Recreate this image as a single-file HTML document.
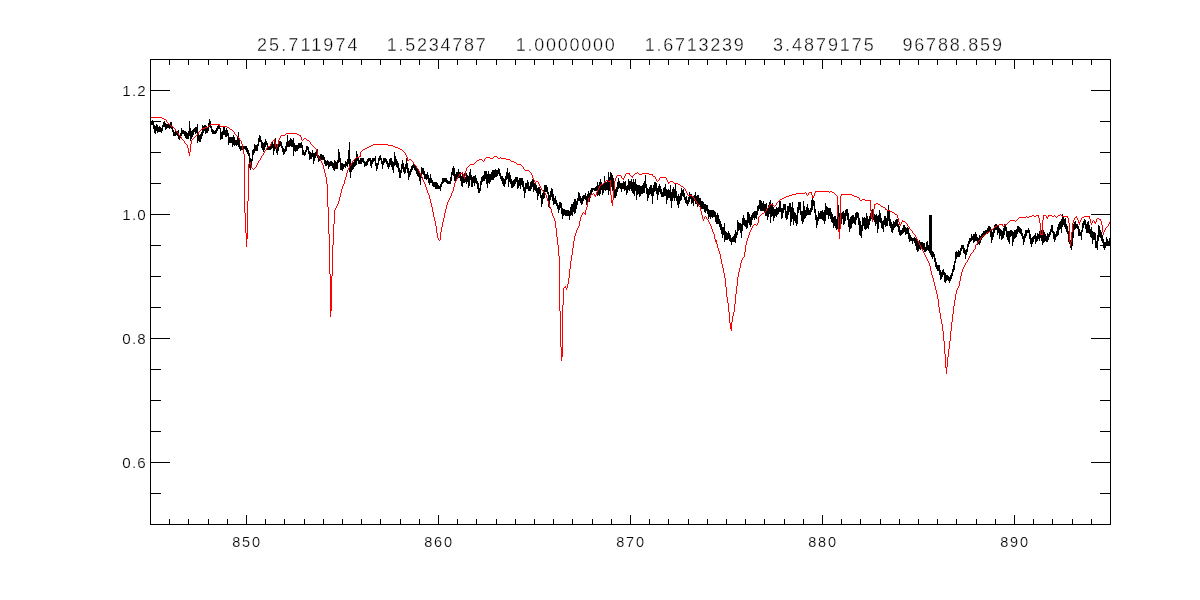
<!DOCTYPE html>
<html><head><meta charset="utf-8"><title>plot</title>
<style>
html,body{margin:0;padding:0;background:#fff;}
body{width:1200px;height:600px;position:relative;overflow:hidden;font-family:"Liberation Sans",sans-serif;color:#000;}
svg{position:absolute;left:0;top:0;}
.t{position:absolute;white-space:pre;line-height:1;}
.xl{font-size:14.5px;letter-spacing:1.8px;top:535px;width:60px;text-align:center;-webkit-text-stroke:0.2px #fff;}
.yl{font-size:15.2px;letter-spacing:1.2px;width:60px;text-align:right;-webkit-text-stroke:0.2px #fff;}
.ti{font-size:18px;letter-spacing:2.1px;top:36px;-webkit-text-stroke:0.35px #fff;}
</style></head><body>
<svg width="1200" height="600" viewBox="0 0 1200 600" shape-rendering="crispEdges">
<path d="M150.5 118V125M151.5 121V125M152.5 120V125M153.5 122V129M154.5 125V133M155.5 126V134M156.5 124V131M157.5 125V133M158.5 127V132M159.5 126V132M160.5 127V132M161.5 128V133M162.5 125V131M163.5 122V127M164.5 121V127M165.5 123V130M166.5 124V129M167.5 124V128M168.5 124V128M169.5 125V129M170.5 122V125M170.5 126V128M171.5 122V126M171.5 127V129M172.5 127V132M173.5 130V136M174.5 132V136M175.5 131V136M176.5 132V135M177.5 131V132M177.5 133V136M178.5 130V133M178.5 135V139M179.5 136V140M180.5 133V136M180.5 137V138M181.5 128V136M182.5 130V134M183.5 130V134M184.5 131V136M185.5 131V138M186.5 132V139M187.5 133V139M188.5 131V139M189.5 121V136M190.5 128V141M191.5 131V139M192.5 130V137M193.5 129V135M194.5 128V132M195.5 127V134M196.5 127V133M197.5 124V134M197.5 135V143M198.5 134V141M199.5 135V142M200.5 134V142M201.5 132V139M202.5 125V128M202.5 129V136M203.5 126V128M203.5 129V133M204.5 125V128M204.5 129V131M205.5 125V127M205.5 128V134M206.5 126V127M206.5 128V133M207.5 128V133M208.5 123V126M208.5 127V131M209.5 119V125M209.5 126V127M210.5 121V124M210.5 125V128M211.5 126V132M212.5 129V134M213.5 130V134M214.5 131V134M215.5 130V134M216.5 128V133M217.5 126V131M218.5 125V129M219.5 126V129M220.5 128V140M221.5 132V139M222.5 131V139M223.5 127V135M224.5 127V135M225.5 130V137M226.5 128V137M227.5 130V136M228.5 133V145M229.5 137V143M230.5 137V143M231.5 137V143M232.5 137V147M233.5 135V145M234.5 137V146M235.5 140V145M236.5 140V146M237.5 137V145M238.5 132V137M238.5 138V147M239.5 140V149M240.5 146V151M241.5 146V150M242.5 149V150M243.5 146V149M244.5 146V149M245.5 146V150M246.5 146V152M247.5 148V154M248.5 150V156M249.5 153V163M249.5 164V168M250.5 158V162M250.5 165V170M251.5 159V165M252.5 150V161M253.5 149V155M254.5 144V153M255.5 145V151M256.5 145V151M257.5 144V151M258.5 138V146M259.5 135V142M260.5 136V142M261.5 140V148M262.5 142V150M263.5 143V152M264.5 142V150M265.5 139V147M266.5 141V145M267.5 143V147M267.5 148V150M268.5 147V150M269.5 147V150M270.5 146V150M271.5 144V149M272.5 142V148M273.5 144V155M274.5 142V151M275.5 138V142M275.5 147V149M276.5 144V147M276.5 149V153M277.5 147V155M278.5 144V151M279.5 141V147M280.5 141V146M281.5 142V148M282.5 146V152M283.5 148V155M284.5 149V154M285.5 146V152M286.5 142V151M287.5 135V147M288.5 141V147M289.5 140V147M290.5 138V146M291.5 139V147M292.5 140V147M293.5 138V156M294.5 143V151M295.5 145V152M296.5 145V151M297.5 145V151M298.5 143V149M299.5 143V148M300.5 143V148M301.5 142V148M302.5 145V155M303.5 150V155M304.5 152V156M305.5 150V155M306.5 146V152M307.5 146V150M308.5 147V154M309.5 151V160M310.5 152V159M311.5 153V159M312.5 150V157M313.5 153V164M314.5 153V161M315.5 152V158M316.5 151V156M317.5 149V151M317.5 156V158M318.5 155V156M318.5 158V162M319.5 156V158M319.5 159V161M320.5 154V159M321.5 154V160M322.5 155V160M323.5 155V160M324.5 157V164M325.5 160V166M326.5 161V166M327.5 160V165M328.5 161V169M329.5 162V167M330.5 161V166M331.5 161V166M332.5 162V168M333.5 163V170M334.5 160V171M335.5 161V169M336.5 162V169M337.5 160V169M338.5 149V163M339.5 152V162M340.5 158V170M341.5 163V170M342.5 163V171M343.5 164V169M344.5 164V167M345.5 161V168M346.5 162V166M347.5 159V167M348.5 150V164M349.5 142V166M349.5 168V172M350.5 159V165M350.5 166V178M351.5 165V172M352.5 163V170M353.5 162V169M354.5 160V167M355.5 159V166M356.5 151V157M356.5 158V165M357.5 154V157M357.5 158V161M358.5 158V164M359.5 160V164M360.5 158V164M361.5 158V164M362.5 158V162M363.5 158V163M364.5 161V167M365.5 162V166M366.5 161V166M367.5 159V165M368.5 158V162M369.5 158V161M370.5 158V166M371.5 160V168M372.5 158V164M373.5 158V162M374.5 158V161M375.5 156V166M376.5 163V171M377.5 163V169M378.5 158V165M379.5 156V161M380.5 155V160M381.5 158V164M382.5 161V169M383.5 158V165M384.5 158V163M385.5 158V162M386.5 159V164M387.5 161V167M388.5 163V169M389.5 159V167M390.5 158V165M391.5 158V167M392.5 161V170M393.5 162V173M394.5 152V166M395.5 156V165M396.5 159V167M397.5 161V168M398.5 163V172M399.5 168V178M400.5 170V178M401.5 164V173M402.5 160V169M403.5 163V172M404.5 167V174M405.5 164V173M406.5 158V169M407.5 163V173M408.5 168V180M409.5 171V177M410.5 169V175M411.5 166V172M412.5 165V170M413.5 164V168M414.5 165V170M415.5 166V171M416.5 168V174M417.5 169V176M418.5 171V177M419.5 173V181M420.5 175V185M421.5 167V175M421.5 177V178M422.5 168V174M423.5 168V175M424.5 171V179M425.5 174V179M426.5 174V180M427.5 172V179M428.5 175V183M429.5 178V185M430.5 174V183M431.5 178V183M432.5 180V186M433.5 182V187M434.5 182V187M435.5 182V189M436.5 182V189M437.5 183V189M438.5 185V189M439.5 186V189M440.5 184V191M441.5 182V187M442.5 178V184M443.5 178V183M444.5 178V182M445.5 178V182M446.5 178V183M447.5 180V184M448.5 181V184M449.5 181V184M450.5 177V184M451.5 172V181M452.5 168V175M453.5 166V176M454.5 168V181M455.5 174V181M456.5 172V179M457.5 172V177M458.5 169V176M458.5 177V178M459.5 172V174M459.5 176V178M460.5 172V173M460.5 174V181M461.5 176V186M462.5 174V187M463.5 177V183M464.5 173V176M464.5 179V183M465.5 177V182M466.5 173V184M467.5 175V182M468.5 176V188M469.5 172V186M470.5 169V180M471.5 175V187M472.5 177V187M473.5 176V183M474.5 176V186M475.5 175V183M476.5 178V184M477.5 181V189M478.5 183V193M479.5 188V193M480.5 181V191M481.5 177V185M482.5 176V182M483.5 175V181M484.5 171V181M485.5 171V179M486.5 171V184M487.5 174V188M488.5 171V183M489.5 174V184M490.5 174V182M491.5 172V180M492.5 170V180M493.5 170V180M494.5 170V178M495.5 169V177M496.5 170V177M497.5 170V176M498.5 168V174M499.5 169V176M500.5 173V179M501.5 176V181M502.5 176V184M503.5 178V186M504.5 179V187M505.5 176V184M506.5 172V180M507.5 168V179M508.5 173V187M509.5 172V182M510.5 175V184M511.5 179V188M512.5 181V188M513.5 180V187M514.5 179V186M515.5 177V184M516.5 177V182M517.5 177V189M518.5 180V188M519.5 178V186M520.5 178V189M521.5 178V185M522.5 178V187M523.5 181V191M524.5 187V198M525.5 183V193M526.5 183V189M527.5 180V189M528.5 182V191M529.5 186V191M530.5 182V191M531.5 181V189M532.5 179V187M533.5 180V192M534.5 183V190M535.5 184V191M536.5 185V193M537.5 188V200M538.5 187V196M539.5 187V194M540.5 189V198M541.5 195V207M542.5 193V204M543.5 190V191M543.5 192V199M544.5 185V192M544.5 193V198M545.5 185V192M546.5 185V192M547.5 187V194M548.5 192V201M548.5 204V207M549.5 195V204M549.5 207V208M550.5 191V200M551.5 188V197M552.5 189V201M553.5 194V205M554.5 198V204M555.5 196V204M556.5 200V206M557.5 203V209M558.5 205V213M559.5 202V210M560.5 202V208M561.5 203V214M562.5 208V219M563.5 209V216M564.5 209V215M565.5 210V216M566.5 210V216M567.5 210V216M568.5 210V216M569.5 211V220M570.5 207V216M571.5 204V215M572.5 204V216M573.5 202V212M574.5 199V214M575.5 199V213M576.5 201V209M577.5 198V205M578.5 192V201M579.5 193V201M580.5 196V203M581.5 198V205M582.5 196V204M583.5 195V201M584.5 195V199M585.5 193V200M586.5 196V205M587.5 194V202M588.5 191V198M589.5 193V197M589.5 198V202M590.5 190V195M590.5 197V198M591.5 188V194M592.5 188V192M593.5 188V190M594.5 188V191M595.5 187V191M596.5 186V191M597.5 182V190M597.5 192V196M598.5 185V188M598.5 190V195M599.5 182V186M599.5 188V196M600.5 179V185M600.5 186V194M601.5 182V184M601.5 185V190M602.5 185V195M603.5 184V193M604.5 176V182M604.5 183V190M605.5 182V191M606.5 182V190M607.5 181V190M608.5 172V181M608.5 182V195M609.5 177V181M609.5 182V191M610.5 172V180M611.5 173V187M612.5 175V191M613.5 178V190M614.5 190V198M615.5 189V198M616.5 187V196M617.5 182V192M618.5 178V189M619.5 181V188M620.5 183V189M621.5 183V192M622.5 183V189M623.5 181V189M624.5 182V191M625.5 181V190M626.5 186V195M627.5 185V193M628.5 179V190M629.5 181V191M630.5 181V189M631.5 179V191M632.5 182V193M633.5 179V194M634.5 182V196M635.5 179V191M636.5 184V200M637.5 185V195M638.5 185V194M639.5 185V197M640.5 186V196M641.5 186V194M642.5 185V194M643.5 183V193M644.5 181V193M645.5 175V188M646.5 184V194M647.5 188V201M648.5 189V198M649.5 187V195M650.5 185V194M651.5 185V196M652.5 188V204M653.5 185V196M654.5 182V192M655.5 182V191M656.5 183V194M657.5 188V200M658.5 186V195M659.5 184V192M660.5 186V194M661.5 189V197M662.5 192V197M663.5 188V197M664.5 187V196M665.5 184V196M666.5 189V204M667.5 190V200M668.5 189V198M669.5 190V198M670.5 185V201M671.5 192V208M672.5 189V201M673.5 187V198M674.5 189V201M675.5 184V198M676.5 191V201M677.5 196V205M678.5 194V208M679.5 196V204M680.5 193V201M681.5 188V200M682.5 190V196M683.5 189V197M684.5 193V200M685.5 197V203M686.5 196V204M687.5 200V206M688.5 197V204M689.5 192V195M689.5 196V202M690.5 194V195M690.5 196V199M691.5 194V195M691.5 196V204M692.5 197V203M693.5 196V197M693.5 198V206M694.5 195V198M694.5 200V201M695.5 192V200M695.5 201V204M696.5 196V201M696.5 203V204M697.5 195V203M697.5 204V207M698.5 195V204M699.5 198V205M700.5 198V207M701.5 201V209M702.5 201V209M703.5 202V209M704.5 204V212M705.5 204V213M706.5 205V211M707.5 205V214M708.5 209V219M709.5 210V217M710.5 210V219M711.5 210V217M712.5 210V218M713.5 210V217M714.5 211V217M715.5 212V222M716.5 215V224M717.5 213V224M718.5 215V224M719.5 219V227M720.5 221V230M721.5 224V234M722.5 227V238M723.5 227V235M724.5 223V242M725.5 231V240M726.5 232V240M727.5 233V240M728.5 231V239M729.5 233V241M730.5 235V242M731.5 238V245M732.5 237V242M733.5 236V242M734.5 234V242M735.5 230V243M736.5 232V238M737.5 220V235M738.5 222V231M739.5 223V230M740.5 223V233M741.5 224V238M742.5 218V231M743.5 215V225M744.5 218V226M745.5 220V227M746.5 220V229M747.5 212V228M748.5 212V223M749.5 214V225M750.5 217V227M751.5 215V225M752.5 213V220M753.5 212V218M754.5 211V220M755.5 211V218M756.5 211V219M757.5 206V215M758.5 205V211M759.5 200V209M760.5 200V211M761.5 201V211M762.5 203V211M763.5 201V211M764.5 204V212M765.5 204V211M765.5 212V216M766.5 203V209M766.5 211V216M767.5 209V220M768.5 205V207M768.5 208V217M769.5 202V205M769.5 207V214M770.5 200V204M770.5 205V223M771.5 205V217M772.5 203V204M772.5 205V216M773.5 207V221M774.5 209V218M775.5 209V216M776.5 207V217M777.5 208V215M778.5 207V214M779.5 201V212M780.5 201V212M781.5 208V219M782.5 208V218M783.5 204V213M784.5 204V210M785.5 204V218M786.5 211V220M787.5 206V219M788.5 206V215M789.5 203V212M790.5 203V226M791.5 207V222M792.5 202V219M793.5 208V225M794.5 212V221M795.5 213V223M796.5 215V226M797.5 207V224M798.5 202V213M799.5 202V210M800.5 202V215M801.5 211V221M802.5 211V224M803.5 201V222M804.5 206V219M805.5 210V218M806.5 207V216M807.5 204V215M808.5 208V215M809.5 210V215M810.5 208V215M811.5 200V212M812.5 198V210M813.5 200V206M814.5 201V213M815.5 209V220M816.5 215V228M817.5 217V225M818.5 211V221M819.5 213V219M820.5 211V219M821.5 211V219M822.5 210V220M823.5 212V221M824.5 210V224M825.5 203V221M826.5 206V215M827.5 207V215M828.5 208V219M829.5 208V216M830.5 208V219M831.5 212V222M832.5 214V223M833.5 217V228M834.5 216V226M835.5 216V228M836.5 219V230M837.5 217V229M838.5 205V217M839.5 213V229M841.5 213V224M842.5 212V219M843.5 211V225M844.5 213V224M845.5 210V221M846.5 209V216M847.5 209V220M848.5 213V227M849.5 219V232M850.5 217V229M851.5 216V228M852.5 215V224M853.5 215V223M854.5 217V224M855.5 213V225M856.5 212V220M857.5 212V218M858.5 213V225M859.5 218V235M860.5 221V236M861.5 225V238M862.5 217V231M863.5 218V226M864.5 217V229M865.5 218V230M866.5 213V229M867.5 216V228M868.5 219V229M869.5 216V225M870.5 213V221M871.5 210V211M871.5 218V219M872.5 209V217M873.5 217V220M874.5 214V222M875.5 215V226M876.5 214V224M877.5 216V233M878.5 215V229M879.5 210V222M880.5 213V223M881.5 218V228M882.5 221V229M883.5 220V232M884.5 216V225M885.5 216V227M886.5 218V226M887.5 211V226M888.5 205V210M888.5 211V221M889.5 211V226M890.5 219V228M891.5 222V232M892.5 224V233M893.5 221V230M894.5 222V228M895.5 220V227M896.5 219V226M897.5 219V227M898.5 224V232M899.5 226V235M900.5 230V236M901.5 230V235M902.5 228V234M903.5 225V233M904.5 225V232M905.5 227V235M906.5 228V234M907.5 227V234M908.5 228V239M909.5 233V242M910.5 235V241M911.5 237V241M912.5 238V244M913.5 238V241M914.5 237V243M915.5 238V246M916.5 239V250M917.5 241V252M918.5 243V251M919.5 240V243M919.5 245V249M920.5 242V245M920.5 247V250M921.5 242V247M922.5 242V249M923.5 243V250M924.5 243V252M925.5 247V252M926.5 242V251M927.5 241V250M928.5 245V251M929.5 215V253M930.5 215V255M931.5 215V257M932.5 251V259M933.5 252V257M934.5 254V262M935.5 258V267M936.5 262V269M937.5 265V271M938.5 265V271M939.5 265V275M940.5 270V280M941.5 272V279M942.5 270V277M943.5 269V275M944.5 272V282M945.5 273V283M946.5 275V281M947.5 275V280M948.5 276V281M949.5 277V283M950.5 275V281M951.5 273V279M952.5 269V276M953.5 265V272M954.5 261V270M955.5 252V263M956.5 251V259M957.5 252V257M958.5 250V257M959.5 251V257M960.5 248V255M961.5 245V251M962.5 245V249M963.5 245V253M964.5 248V254M965.5 250V259M966.5 249V255M967.5 244V252M968.5 241V247M969.5 238V244M970.5 238V242M971.5 234V241M972.5 236V240M973.5 234V243M974.5 234V242M975.5 232V241M976.5 234V241M977.5 237V242M977.5 244V245M978.5 238V241M978.5 242V244M979.5 235V240M979.5 241V245M980.5 236V238M980.5 240V243M981.5 234V237M981.5 238V240M982.5 233V236M982.5 237V238M983.5 231V235M983.5 236V237M984.5 231V235M985.5 230V234M986.5 230V233M987.5 228V232M987.5 233V234M988.5 226V232M989.5 226V231M990.5 227V230M990.5 231V237M991.5 230V243M992.5 232V240M993.5 229V237M994.5 225V227M994.5 228V233M995.5 224V226M995.5 227V230M996.5 224V226M996.5 227V230M997.5 226V235M998.5 226V233M999.5 228V239M1000.5 229V236M1001.5 230V240M1002.5 231V239M1003.5 228V238M1004.5 224V225M1004.5 226V235M1005.5 225V231M1006.5 227V237M1007.5 231V240M1008.5 231V242M1009.5 231V244M1010.5 230V237M1011.5 230V236M1012.5 231V246M1013.5 232V242M1014.5 230V239M1015.5 230V238M1016.5 229V237M1017.5 226V234M1018.5 226V232M1019.5 227V233M1020.5 228V234M1021.5 229V236M1022.5 233V239M1023.5 236V245M1024.5 234V242M1025.5 230V238M1026.5 230V236M1027.5 230V233M1028.5 228V233M1029.5 230V239M1030.5 234V244M1031.5 238V247M1032.5 237V244M1033.5 236V242M1034.5 235V239M1035.5 233V244M1036.5 236V242M1037.5 233V241M1038.5 234V239M1039.5 231V241M1040.5 235V238M1041.5 230V234M1041.5 235V241M1042.5 235V245M1043.5 230V243M1044.5 232V242M1045.5 234V241M1046.5 236V242M1047.5 233V242M1048.5 234V240M1049.5 232V237M1050.5 229V235M1051.5 225V232M1052.5 225V233M1053.5 231V239M1054.5 232V242M1055.5 234V240M1056.5 231V237M1057.5 227V236M1058.5 224V235M1059.5 222V230M1060.5 221V229M1061.5 219V233M1062.5 214V216M1062.5 217V227M1063.5 217V225M1064.5 219V227M1065.5 218V229M1066.5 224V232M1067.5 226V234M1068.5 231V242M1069.5 242V244M1070.5 240V242M1070.5 246V248M1071.5 242V250M1072.5 232V246M1073.5 224V238M1074.5 222V230M1075.5 221V229M1076.5 224V228M1077.5 224V229M1078.5 226V236M1079.5 229V236M1080.5 232V236M1081.5 230V240M1082.5 223V232M1083.5 221V228M1084.5 219V225M1085.5 220V229M1086.5 224V233M1087.5 222V233M1088.5 221V233M1089.5 225V234M1090.5 229V237M1091.5 227V238M1092.5 231V244M1093.5 232V240M1094.5 232V240M1095.5 233V248M1096.5 241V248M1097.5 235V250M1098.5 225V241M1099.5 226V237M1100.5 230V238M1101.5 232V241M1102.5 235V243M1103.5 239V248M1104.5 242V250M1105.5 242V248M1106.5 237V246M1107.5 239V246M1108.5 241V246M1109.5 238V246M1110.5 237V242" fill="none" stroke="#000" stroke-width="1"/>
<path d="M150.5 117V118M151.5 117V118M152.5 117V118M153.5 117V118M154.5 117V118M155.5 117V118M156.5 117V118M157.5 117V118M158.5 117V118M159.5 117V118M160.5 117V118M161.5 117V118M162.5 118V119M163.5 118V119M164.5 119V120M165.5 119V120M166.5 120V122M167.5 122V123M168.5 123V124M169.5 124V125M170.5 125V126M171.5 126V127M172.5 126V127M173.5 127V128M174.5 128V129M175.5 129V131M176.5 131V132M177.5 132V133M178.5 133V135M179.5 135V136M180.5 136V137M181.5 137V139M182.5 139V140M183.5 140V141M184.5 141V143M185.5 143V144M186.5 144V145M187.5 145V148M188.5 148V153M189.5 152V156M190.5 144V152M191.5 140V144M192.5 139V140M193.5 138V139M194.5 137V138M195.5 136V137M196.5 135V136M197.5 134V135M198.5 132V134M199.5 131V132M200.5 130V131M201.5 129V130M202.5 128V129M203.5 128V129M204.5 128V129M205.5 127V128M206.5 127V128M207.5 127V128M208.5 126V127M209.5 125V126M210.5 124V125M211.5 124V125M212.5 124V125M213.5 124V125M214.5 124V125M215.5 124V125M216.5 124V125M217.5 124V125M218.5 124V125M219.5 124V126M220.5 126V127M221.5 126V127M222.5 126V127M223.5 126V127M224.5 126V127M225.5 126V127M226.5 126V127M227.5 127V128M228.5 127V128M229.5 128V129M230.5 129V130M231.5 129V130M232.5 130V131M233.5 131V132M234.5 132V134M235.5 134V135M236.5 135V136M237.5 136V137M238.5 137V138M239.5 138V140M240.5 140V141M241.5 141V144M242.5 144V149M243.5 149V154M244.5 154V213M245.5 213V233M246.5 233V247M247.5 201V239M248.5 164V201M249.5 163V164M250.5 162V165M251.5 165V168M252.5 168V169M253.5 169V170M254.5 168V169M255.5 167V168M256.5 165V167M257.5 163V165M258.5 161V163M259.5 160V161M260.5 158V160M261.5 156V158M262.5 155V156M263.5 153V155M264.5 151V153M265.5 150V151M266.5 148V150M267.5 147V148M268.5 146V147M269.5 146V147M270.5 144V146M271.5 142V144M272.5 141V142M273.5 140V141M274.5 139V142M275.5 142V147M276.5 147V149M277.5 144V147M278.5 140V144M279.5 138V140M280.5 136V138M281.5 135V136M282.5 135V136M283.5 135V136M284.5 135V136M285.5 134V135M286.5 133V134M287.5 133V134M288.5 133V134M289.5 133V134M290.5 133V134M291.5 133V134M292.5 133V134M293.5 133V134M294.5 133V134M295.5 133V134M296.5 133V134M297.5 134V135M298.5 134V135M299.5 135V136M300.5 135V137M301.5 137V140M302.5 140V141M303.5 139V140M304.5 138V139M305.5 138V139M306.5 139V140M307.5 140V141M308.5 140V141M309.5 141V142M310.5 142V144M311.5 144V145M312.5 145V146M313.5 146V147M314.5 147V148M315.5 148V149M316.5 149V151M317.5 151V156M318.5 156V158M319.5 158V159M320.5 159V161M321.5 161V163M322.5 163V165M323.5 165V169M324.5 169V173M325.5 173V177M326.5 177V184M327.5 184V207M328.5 207V234M329.5 234V274M330.5 274V317M331.5 276V311M332.5 245V276M333.5 224V245M334.5 210V224M335.5 208V210M336.5 206V208M337.5 204V206M338.5 201V204M339.5 197V201M340.5 193V197M341.5 189V193M342.5 186V189M343.5 184V186M344.5 180V184M345.5 177V180M346.5 173V177M347.5 170V173M348.5 168V170M349.5 166V168M350.5 165V166M351.5 163V165M352.5 161V163M353.5 160V161M354.5 159V160M355.5 158V159M356.5 157V158M357.5 157V158M358.5 157V158M359.5 156V157M360.5 152V157M361.5 151V152M362.5 150V151M363.5 149V150M364.5 149V150M365.5 148V149M366.5 148V149M367.5 147V148M368.5 147V148M369.5 146V147M370.5 146V147M371.5 145V146M372.5 145V146M373.5 144V145M374.5 144V145M375.5 144V145M376.5 144V145M377.5 144V145M378.5 144V145M379.5 144V145M380.5 144V145M381.5 144V145M382.5 144V145M383.5 144V145M384.5 144V145M385.5 144V145M386.5 144V145M387.5 144V145M388.5 145V146M389.5 145V146M390.5 145V146M391.5 145V146M392.5 145V146M393.5 146V147M394.5 146V147M395.5 147V148M396.5 147V148M397.5 147V148M398.5 148V149M399.5 148V149M400.5 149V150M401.5 149V150M402.5 150V151M403.5 151V152M404.5 152V153M405.5 153V155M406.5 155V157M407.5 157V161M408.5 160V161M409.5 159V160M410.5 159V160M411.5 160V161M412.5 161V162M413.5 162V164M414.5 164V165M415.5 165V166M416.5 166V168M417.5 168V169M418.5 169V171M419.5 171V173M420.5 173V175M421.5 175V177M422.5 177V180M423.5 180V182M424.5 182V184M425.5 184V187M426.5 187V190M427.5 190V193M428.5 193V195M429.5 195V199M430.5 199V203M431.5 203V207M432.5 207V212M433.5 212V217M434.5 217V221M435.5 221V226M436.5 226V233M437.5 233V238M438.5 238V240M439.5 240V241M440.5 232V240M441.5 227V232M442.5 222V227M443.5 218V222M444.5 213V218M445.5 209V213M446.5 205V209M447.5 202V205M448.5 200V202M449.5 198V200M450.5 196V198M451.5 193V196M452.5 191V193M453.5 187V191M454.5 183V187M455.5 181V183M456.5 179V181M457.5 177V179M458.5 176V177M459.5 174V176M460.5 173V174M461.5 173V174M462.5 172V174M463.5 174V177M464.5 176V179M465.5 171V176M466.5 168V171M467.5 167V168M468.5 166V167M469.5 165V166M470.5 164V165M471.5 164V165M472.5 164V165M473.5 164V165M474.5 163V164M475.5 162V163M476.5 161V162M477.5 160V161M478.5 160V161M479.5 159V160M480.5 159V160M481.5 159V160M482.5 160V161M483.5 161V162M484.5 159V161M485.5 158V159M486.5 157V158M487.5 157V158M488.5 157V158M489.5 157V158M490.5 158V159M491.5 158V159M492.5 158V159M493.5 157V158M494.5 156V157M495.5 156V157M496.5 156V157M497.5 157V158M498.5 158V159M499.5 158V159M500.5 157V158M501.5 158V159M502.5 158V159M503.5 158V159M504.5 158V159M505.5 158V159M506.5 159V160M507.5 159V160M508.5 159V160M509.5 159V160M510.5 160V161M511.5 161V162M512.5 161V162M513.5 161V162M514.5 162V163M515.5 162V163M516.5 163V164M517.5 164V165M518.5 164V165M519.5 164V165M520.5 164V165M521.5 165V166M522.5 166V167M523.5 167V169M524.5 169V170M525.5 170V171M526.5 170V171M527.5 170V171M528.5 170V171M529.5 171V172M530.5 172V173M531.5 173V175M532.5 175V178M533.5 178V180M534.5 180V182M535.5 182V184M536.5 181V182M537.5 181V182M538.5 182V184M539.5 184V186M540.5 186V188M541.5 188V190M542.5 190V191M543.5 191V192M544.5 192V193M545.5 193V195M546.5 195V198M547.5 198V201M548.5 201V204M549.5 204V207M550.5 207V209M551.5 209V213M552.5 213V216M553.5 216V218M554.5 218V221M555.5 221V228M556.5 228V237M557.5 237V245M558.5 245V256M559.5 256V311M560.5 311V347M561.5 347V361M562.5 305V357M563.5 288V305M564.5 287V288M565.5 286V288M566.5 288V290M567.5 284V288M568.5 278V284M569.5 269V278M570.5 261V269M571.5 255V261M572.5 248V255M573.5 241V248M574.5 236V241M575.5 233V236M576.5 230V233M577.5 228V230M578.5 226V228M579.5 221V226M580.5 217V221M581.5 215V217M582.5 213V215M583.5 212V213M584.5 213V214M585.5 210V215M586.5 207V210M587.5 202V207M588.5 198V202M589.5 197V198M590.5 195V197M591.5 194V195M592.5 194V195M593.5 193V194M594.5 194V196M595.5 195V197M596.5 192V195M597.5 190V192M598.5 188V190M599.5 186V188M600.5 185V186M601.5 184V185M602.5 184V185M603.5 183V184M604.5 182V183M605.5 181V182M606.5 180V181M607.5 180V181M608.5 181V182M609.5 181V182M610.5 180V195M611.5 195V203M612.5 200V206M613.5 190V200M614.5 181V190M615.5 178V181M616.5 176V178M617.5 175V176M618.5 175V176M619.5 175V176M620.5 175V176M621.5 176V178M622.5 178V179M623.5 178V180M624.5 176V178M625.5 174V176M626.5 173V174M627.5 173V174M628.5 173V174M629.5 173V175M630.5 175V176M631.5 176V177M632.5 176V178M633.5 175V176M634.5 174V175M635.5 173V174M636.5 173V174M637.5 172V173M638.5 173V174M639.5 174V175M640.5 174V175M641.5 174V175M642.5 173V174M643.5 173V174M644.5 173V174M645.5 173V174M646.5 173V174M647.5 173V174M648.5 173V174M649.5 174V175M650.5 174V175M651.5 174V175M652.5 174V176M653.5 176V177M654.5 176V177M655.5 177V179M656.5 179V181M657.5 181V182M658.5 180V181M659.5 178V180M660.5 177V178M661.5 177V178M662.5 177V178M663.5 177V178M664.5 177V178M665.5 177V178M666.5 178V180M667.5 180V182M668.5 182V184M669.5 182V183M670.5 181V182M671.5 181V182M672.5 181V182M673.5 182V183M674.5 183V184M675.5 183V184M676.5 183V184M677.5 183V184M678.5 184V185M679.5 184V185M680.5 185V186M681.5 186V187M682.5 186V187M683.5 187V188M684.5 188V189M685.5 189V191M686.5 191V193M687.5 193V195M688.5 195V196M689.5 195V196M690.5 195V196M691.5 195V196M692.5 196V197M693.5 197V198M694.5 198V200M695.5 200V201M696.5 201V203M697.5 203V204M698.5 204V206M699.5 206V207M700.5 207V211M701.5 211V215M702.5 215V219M703.5 219V221M704.5 217V219M705.5 216V217M706.5 217V219M707.5 219V220M708.5 220V222M709.5 222V224M710.5 224V226M711.5 226V229M712.5 229V232M713.5 232V234M714.5 234V239M715.5 239V242M716.5 240V244M717.5 244V248M718.5 248V251M719.5 251V254M720.5 254V259M721.5 259V264M722.5 264V268M723.5 268V273M724.5 273V278M725.5 278V287M726.5 287V297M727.5 297V303M728.5 303V312M729.5 312V323M730.5 323V329M731.5 322V331M732.5 316V322M733.5 312V316M734.5 304V312M735.5 294V304M736.5 286V294M737.5 277V286M738.5 272V277M739.5 268V272M740.5 263V268M741.5 260V263M742.5 258V260M743.5 257V258M744.5 252V257M745.5 245V252M746.5 241V245M747.5 238V241M748.5 235V238M749.5 232V235M750.5 230V232M751.5 228V230M752.5 226V228M753.5 225V226M754.5 224V225M755.5 224V225M756.5 225V226M757.5 223V225M758.5 217V223M759.5 216V217M760.5 215V216M761.5 214V215M762.5 213V214M763.5 213V214M764.5 212V213M765.5 211V212M766.5 209V211M767.5 208V209M768.5 207V208M769.5 205V207M770.5 204V205M771.5 204V205M772.5 204V205M773.5 205V206M774.5 206V207M775.5 205V206M776.5 203V205M777.5 202V203M778.5 201V202M779.5 200V201M780.5 199V200M781.5 199V200M782.5 198V199M783.5 198V199M784.5 197V198M785.5 197V198M786.5 196V197M787.5 196V197M788.5 196V197M789.5 195V196M790.5 195V196M791.5 195V196M792.5 194V195M793.5 194V195M794.5 194V195M795.5 194V195M796.5 193V194M797.5 193V194M798.5 193V194M799.5 193V194M800.5 193V194M801.5 193V194M802.5 193V194M803.5 193V194M804.5 193V194M805.5 192V193M806.5 193V195M807.5 195V196M808.5 193V195M809.5 192V193M810.5 192V193M811.5 192V195M812.5 195V198M813.5 196V198M814.5 193V196M815.5 191V193M816.5 191V192M817.5 191V192M818.5 191V192M819.5 191V192M820.5 191V192M821.5 191V192M822.5 191V192M823.5 191V192M824.5 191V192M825.5 191V192M826.5 191V192M827.5 191V192M828.5 191V192M829.5 192V193M830.5 191V192M831.5 191V192M832.5 192V193M833.5 192V193M834.5 193V194M835.5 194V195M836.5 195V196M837.5 196V217M838.5 217V232M839.5 229V239M840.5 196V229M841.5 194V196M842.5 194V195M843.5 194V195M844.5 194V195M845.5 194V195M846.5 194V195M847.5 194V195M848.5 194V195M849.5 194V195M850.5 194V195M851.5 194V195M852.5 195V196M853.5 195V196M854.5 196V197M855.5 196V197M856.5 196V197M857.5 197V198M858.5 197V198M859.5 198V200M860.5 200V201M861.5 200V201M862.5 199V200M863.5 199V200M864.5 199V200M865.5 200V201M866.5 200V201M867.5 200V201M868.5 200V201M869.5 200V201M870.5 200V211M871.5 211V218M872.5 217V222M873.5 209V217M874.5 204V209M875.5 204V205M876.5 203V204M877.5 203V204M878.5 204V205M879.5 204V205M880.5 205V206M881.5 206V207M882.5 206V207M883.5 207V208M884.5 207V208M885.5 208V210M886.5 209V210M887.5 210V211M888.5 210V211M889.5 210V211M890.5 211V212M891.5 211V212M892.5 212V213M893.5 212V213M894.5 213V214M895.5 214V215M896.5 214V215M897.5 215V218M898.5 218V222M899.5 222V225M900.5 224V226M901.5 222V224M902.5 220V222M903.5 221V222M904.5 221V222M905.5 222V223M906.5 223V224M907.5 224V226M908.5 226V227M909.5 227V229M910.5 229V230M911.5 230V231M912.5 231V233M913.5 233V234M914.5 234V235M915.5 235V237M916.5 237V239M917.5 239V241M918.5 241V243M919.5 243V245M920.5 245V247M921.5 247V249M922.5 249V251M923.5 251V253M924.5 253V255M925.5 255V257M926.5 257V259M927.5 259V261M928.5 261V263M929.5 263V266M930.5 266V271M931.5 271V275M932.5 275V278M933.5 278V282M934.5 282V286M935.5 286V290M936.5 290V294M937.5 294V299M938.5 299V307M939.5 307V313M940.5 313V319M941.5 319V324M942.5 324V331M943.5 331V341M944.5 341V354M945.5 354V368M946.5 367V374M947.5 357V367M948.5 349V357M949.5 341V349M950.5 331V341M951.5 322V331M952.5 314V322M953.5 306V314M954.5 300V306M955.5 294V300M956.5 290V294M957.5 288V290M958.5 286V288M959.5 281V286M960.5 276V281M961.5 272V276M962.5 269V272M963.5 267V269M964.5 265V267M965.5 263V265M966.5 262V263M967.5 260V262M968.5 258V260M969.5 256V258M970.5 254V256M971.5 253V254M972.5 252V253M973.5 250V252M974.5 249V250M975.5 245V249M976.5 244V245M977.5 242V244M978.5 241V242M979.5 240V241M980.5 238V240M981.5 237V238M982.5 236V237M983.5 235V236M984.5 235V236M985.5 234V235M986.5 233V234M987.5 232V233M988.5 232V233M989.5 231V232M990.5 230V231M991.5 229V230M992.5 229V230M993.5 228V229M994.5 227V228M995.5 226V227M996.5 226V227M997.5 225V226M998.5 225V226M999.5 224V225M1000.5 224V225M1001.5 224V225M1002.5 224V226M1003.5 226V227M1004.5 225V226M1005.5 224V225M1006.5 224V225M1007.5 223V224M1008.5 222V223M1009.5 221V222M1010.5 220V221M1011.5 220V221M1012.5 220V221M1013.5 220V221M1014.5 220V221M1015.5 221V222M1016.5 220V221M1017.5 219V220M1018.5 218V219M1019.5 217V218M1020.5 217V218M1021.5 217V218M1022.5 217V218M1023.5 217V218M1024.5 217V218M1025.5 217V218M1026.5 216V217M1027.5 217V218M1028.5 217V218M1029.5 216V217M1030.5 216V217M1031.5 216V217M1032.5 215V216M1033.5 215V216M1034.5 216V217M1035.5 216V217M1036.5 215V216M1037.5 215V216M1038.5 215V218M1039.5 218V223M1040.5 223V235M1041.5 234V235M1042.5 220V235M1043.5 215V220M1044.5 215V216M1045.5 215V216M1046.5 216V218M1047.5 217V219M1048.5 215V217M1049.5 215V216M1050.5 215V216M1051.5 215V216M1052.5 216V217M1053.5 216V217M1054.5 215V216M1055.5 216V217M1056.5 217V218M1057.5 216V217M1058.5 215V216M1059.5 215V216M1060.5 214V215M1061.5 215V216M1062.5 216V217M1063.5 216V217M1064.5 216V217M1065.5 216V217M1066.5 216V217M1067.5 216V218M1068.5 218V223M1069.5 223V242M1070.5 242V246M1071.5 232V242M1072.5 223V232M1073.5 220V223M1074.5 218V220M1075.5 217V218M1076.5 216V218M1077.5 218V220M1078.5 220V223M1079.5 222V225M1080.5 220V222M1081.5 218V220M1082.5 217V218M1083.5 217V218M1084.5 216V217M1085.5 216V217M1086.5 216V217M1087.5 216V217M1088.5 216V217M1089.5 216V219M1090.5 219V223M1091.5 223V225M1092.5 221V223M1093.5 220V221M1094.5 221V223M1095.5 222V224M1096.5 219V222M1097.5 218V219M1098.5 218V219M1099.5 219V220M1100.5 219V221M1101.5 221V225M1102.5 225V232M1103.5 232V235M1104.5 230V232M1105.5 228V230M1106.5 227V228M1107.5 226V227M1108.5 224V226M1109.5 222V224M1110.5 221V222" fill="none" stroke="#f00" stroke-width="1"/>
<path d="M150.5 59.5H1110.5V524.5H150.5Z" fill="none" stroke="#000" stroke-width="1"/>
<path d="M169.5 524v-5M169.5 60v5M188.5 524v-5M188.5 60v5M208.5 524v-5M208.5 60v5M227.5 524v-5M227.5 60v5M246.5 524v-9M246.5 60v9M265.5 524v-5M265.5 60v5M284.5 524v-5M284.5 60v5M304.5 524v-5M304.5 60v5M323.5 524v-5M323.5 60v5M342.5 524v-5M342.5 60v5M361.5 524v-5M361.5 60v5M380.5 524v-5M380.5 60v5M400.5 524v-5M400.5 60v5M419.5 524v-5M419.5 60v5M438.5 524v-9M438.5 60v9M457.5 524v-5M457.5 60v5M476.5 524v-5M476.5 60v5M496.5 524v-5M496.5 60v5M515.5 524v-5M515.5 60v5M534.5 524v-5M534.5 60v5M553.5 524v-5M553.5 60v5M572.5 524v-5M572.5 60v5M592.5 524v-5M592.5 60v5M611.5 524v-5M611.5 60v5M630.5 524v-9M630.5 60v9M649.5 524v-5M649.5 60v5M668.5 524v-5M668.5 60v5M688.5 524v-5M688.5 60v5M707.5 524v-5M707.5 60v5M726.5 524v-5M726.5 60v5M745.5 524v-5M745.5 60v5M764.5 524v-5M764.5 60v5M784.5 524v-5M784.5 60v5M803.5 524v-5M803.5 60v5M822.5 524v-9M822.5 60v9M841.5 524v-5M841.5 60v5M860.5 524v-5M860.5 60v5M880.5 524v-5M880.5 60v5M899.5 524v-5M899.5 60v5M918.5 524v-5M918.5 60v5M937.5 524v-5M937.5 60v5M956.5 524v-5M956.5 60v5M976.5 524v-5M976.5 60v5M995.5 524v-5M995.5 60v5M1014.5 524v-9M1014.5 60v9M1033.5 524v-5M1033.5 60v5M1052.5 524v-5M1052.5 60v5M1072.5 524v-5M1072.5 60v5M1091.5 524v-5M1091.5 60v5M150 493.5h11M1111 493.5h-11M150 462.5h20M1111 462.5h-20M150 431.5h11M1111 431.5h-11M150 400.5h11M1111 400.5h-11M150 369.5h11M1111 369.5h-11M150 338.5h20M1111 338.5h-20M150 307.5h11M1111 307.5h-11M150 276.5h11M1111 276.5h-11M150 245.5h11M1111 245.5h-11M150 214.5h20M1111 214.5h-20M150 183.5h11M1111 183.5h-11M150 152.5h11M1111 152.5h-11M150 121.5h11M1111 121.5h-11M150 90.5h20M1111 90.5h-20" fill="none" stroke="#000" stroke-width="1"/>
</svg>
<div class="t ti" style="left:257px">25.711974</div>
<div class="t ti" style="left:386.8px;letter-spacing:1.75px">1.5234787</div>
<div class="t ti" style="left:515.8px;letter-spacing:1.75px">1.0000000</div>
<div class="t ti" style="left:644.8px;letter-spacing:1.75px">1.6713239</div>
<div class="t ti" style="left:773px;letter-spacing:1.97px">3.4879175</div>
<div class="t ti" style="left:902.5px;letter-spacing:1.79px">96788.859</div>
<div class="t xl" style="left:217px">850</div>
<div class="t xl" style="left:409px">860</div>
<div class="t xl" style="left:601px">870</div>
<div class="t xl" style="left:793px">880</div>
<div class="t xl" style="left:985px">890</div>
<div class="t yl" style="left:87px;top:83.4px">1.2</div>
<div class="t yl" style="left:87px;top:207.4px">1.0</div>
<div class="t yl" style="left:87px;top:331.4px">0.8</div>
<div class="t yl" style="left:87px;top:455.4px">0.6</div>
</body></html>
